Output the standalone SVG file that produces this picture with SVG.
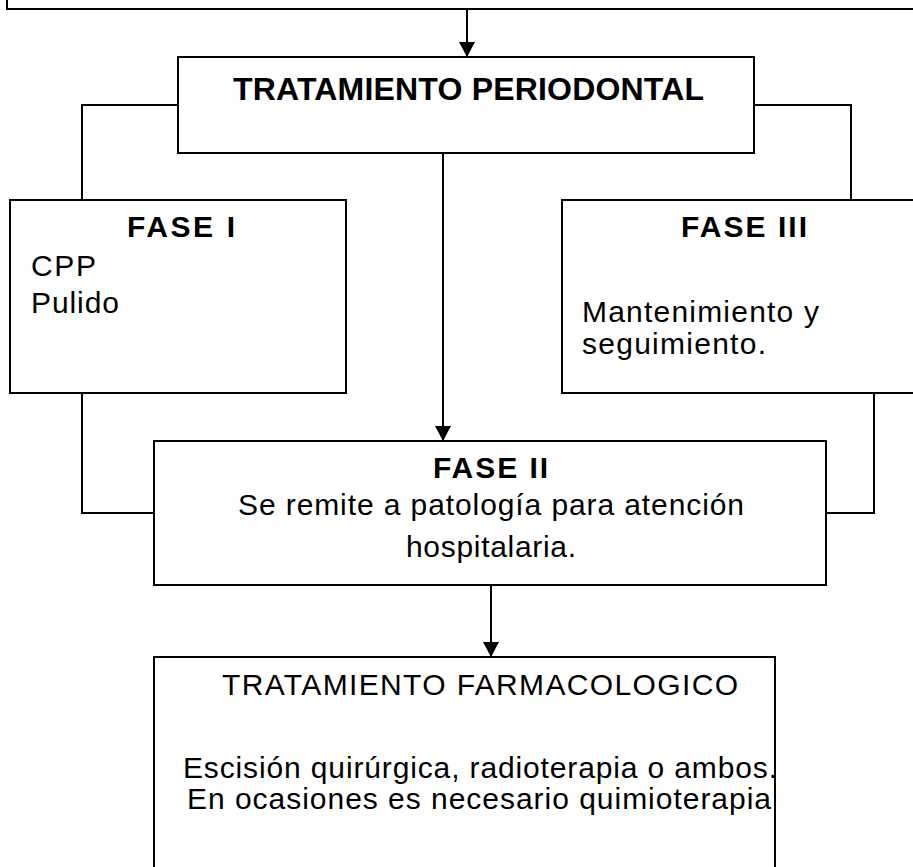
<svg xmlns="http://www.w3.org/2000/svg" width="913" height="867" viewBox="0 0 913 867">
<defs>
<style>
.box{fill:#fff;stroke:#000;stroke-width:2}
.con{fill:none;stroke:#000;stroke-width:2}
text{font-family:"Liberation Sans",Arial,sans-serif;fill:#000;font-size:30px}
.b{font-weight:bold}
.m{text-anchor:middle}
</style>
<marker id="arr" markerUnits="userSpaceOnUse" markerWidth="16" markerHeight="16" refX="15" refY="8" orient="auto">
<path d="M0,0 L15,8 L0,16 Z" fill="#000"/>
</marker>
</defs>
<rect width="913" height="867" fill="#fff"/>
<g id="top">
<rect class="box" x="7" y="-20" width="920" height="29"/>
</g>
<g id="tratamiento-periodontal">
<rect class="box" x="178" y="57" width="576" height="96"/>
<text class="b m" x="468.5" y="100" style="font-size:32px" textLength="471" lengthAdjust="spacing">TRATAMIENTO PERIODONTAL</text>
</g>
<g id="fase1">
<rect class="box" x="10" y="200" width="336" height="193"/>
<text class="b m" x="181" y="237" textLength="108" lengthAdjust="spacing">FASE I</text>
<text x="31" y="276" textLength="65" lengthAdjust="spacing">CPP</text>
<text x="31" y="313" textLength="88" lengthAdjust="spacing">Pulido</text>
</g>
<g id="fase3">
<rect class="box" x="562" y="200" width="360" height="193"/>
<text class="b m" x="744" y="237" textLength="126" lengthAdjust="spacing">FASE III</text>
<text x="582" y="322" textLength="237" lengthAdjust="spacing">Mantenimiento y</text>
<text x="582" y="354" textLength="184" lengthAdjust="spacing">seguimiento.</text>
</g>
<g id="fase2">
<rect class="box" x="154" y="441" width="672" height="144"/>
<text class="b m" x="490.5" y="478" textLength="115" lengthAdjust="spacing">FASE II</text>
<text class="m" x="491" y="515" textLength="506" lengthAdjust="spacing">Se remite a patología para atención</text>
<text class="m" x="491" y="557" textLength="170" lengthAdjust="spacing">hospitalaria.</text>
</g>
<g id="farmacologico">
<rect class="box" x="154" y="657" width="621" height="230"/>
<text class="m" x="480" y="695" textLength="516" lengthAdjust="spacing">TRATAMIENTO FARMACOLOGICO</text>
<text class="m" x="480" y="778" textLength="594" lengthAdjust="spacing">Escisión quirúrgica, radioterapia o ambos.</text>
<text class="m" x="479" y="809" textLength="584" lengthAdjust="spacing">En ocasiones es necesario quimioterapia</text>
</g>
<g id="connectors">
<path class="con" d="M467,9 V57" marker-end="url(#arr)"/>
<path class="con" d="M178,105 H82 V200"/>
<path class="con" d="M754,105 H851 V200"/>
<path class="con" d="M443,153 V441" marker-end="url(#arr)"/>
<path class="con" d="M82,393 V513 H154"/>
<path class="con" d="M874,393 V513 H826"/>
<path class="con" d="M491,585 V657" marker-end="url(#arr)"/>
</g>
</svg>
